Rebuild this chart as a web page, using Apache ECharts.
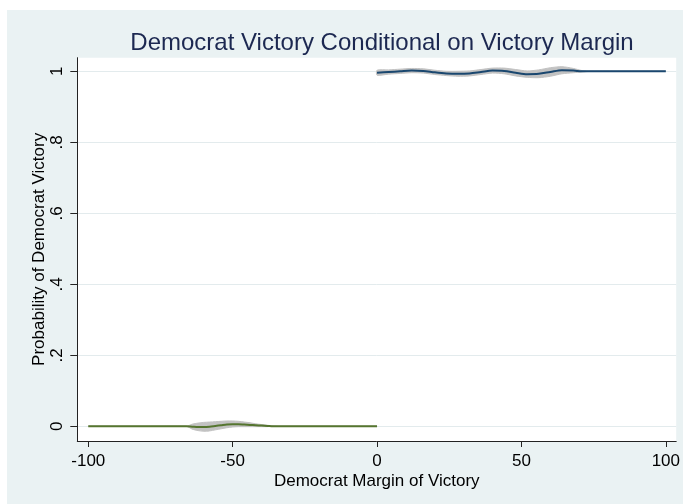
<!DOCTYPE html>
<html>
<head>
<meta charset="utf-8">
<script src="https://cdn.jsdelivr.net/npm/echarts@6/dist/echarts.min.js"></script>
<style>
  html, body { margin: 0; padding: 0; background: #ffffff; width: 683px; height: 504px; overflow: hidden; }
  #chart { position: absolute; left: 7px; top: 10px; width: 676px; height: 494px; }
</style>
</head>
<body>
<div id="chart"></div>
<script>
// Axis ticks and their printed labels
var xTicks = [-100, -50, 0, 50, 100];
var xTickLabels = ['-100', '-50', '0', '50', '100'];
var yTicks = [0, 0.2, 0.4, 0.6, 0.8, 1];
var yTickLabels = ['0', '.2', '.4', '.6', '.8', '1'];

// Fit and confidence band, Republican-won side (margin < 0)
var lossX   = [-100, -80, -66, -64, -62, -60, -58, -56, -54, -52, -50, -48, -46, -44, -42, -40, -38, -36, -34, -30, -20, -10, 0];
var lossFit = [0, 0, 0, -0.001, -0.002, -0.002, -0.001, 0.001, 0.003, 0.005, 0.006, 0.006, 0.005, 0.004, 0.003, 0.002, 0.001, 0, 0, 0, 0, 0, 0];
var lossLo  = [0, 0, 0, -0.008, -0.012, -0.014, -0.013, -0.010, -0.007, -0.004, -0.002, -0.001, -0.001, -0.001, -0.001, -0.001, -0.001, 0, 0, 0, 0, 0, 0];
var lossHi  = [0, 0, 0, 0.006, 0.009, 0.011, 0.012, 0.013, 0.014, 0.015, 0.015, 0.014, 0.012, 0.010, 0.007, 0.005, 0.003, 0.001, 0, 0, 0, 0, 0];

// Fit and confidence band, Democrat-won side (margin > 0)
var winX   = [0, 4, 8, 12, 16, 20, 24, 28, 32, 36, 40, 44, 48, 52, 56, 60, 64, 68, 71, 74, 80, 90, 100];
var winFit = [0.996, 0.998, 1.000, 1.002, 1.001, 0.997, 0.994, 0.993, 0.994, 0.998, 1.002, 1.001, 0.996, 0.992, 0.993, 0.998, 1.003, 1.002, 1.000, 1, 1, 1, 1];
var winLo  = [0.989, 0.992, 0.994, 0.996, 0.995, 0.991, 0.988, 0.986, 0.987, 0.991, 0.995, 0.993, 0.987, 0.983, 0.982, 0.986, 0.993, 0.996, 0.998, 1, 1, 1, 1];
var winHi  = [1.003, 1.004, 1.006, 1.008, 1.007, 1.003, 1.000, 1.000, 1.001, 1.005, 1.009, 1.009, 1.005, 1.001, 1.004, 1.010, 1.013, 1.008, 1.002, 1, 1, 1, 1];

var FONT = '"Liberation Sans", Arial, Helvetica, sans-serif';

function pairs(xs, ys) {
  return xs.map(function (x, i) { return [x, ys[i]]; });
}

// Shaded confidence band drawn as one polygon through the axis scales
function band(xs, lo, hi) {
  return {
    type: 'custom',
    silent: true,
    z: 1,
    data: [[xs[0], lo[0]]],
    renderItem: function (params, api) {
      var pts = [];
      for (var i = 0; i < xs.length; i++) pts.push(api.coord([xs[i], hi[i]]));
      for (var j = xs.length - 1; j >= 0; j--) pts.push(api.coord([xs[j], lo[j]]));
      return {
        type: 'polygon',
        shape: { points: pts, smooth: 0.25 },
        style: { fill: '#c2c2c2', stroke: '#c2c2c2', lineWidth: 1 }
      };
    }
  };
}

function fitLine(xs, ys, color) {
  return {
    type: 'line',
    data: pairs(xs, ys),
    showSymbol: false,
    smooth: 0.3,
    z: 3,
    lineStyle: { color: color, width: 2 },
    itemStyle: { color: color }
  };
}

var chart = echarts.init(document.getElementById('chart'));
chart.setOption({
  animation: false,
  backgroundColor: '#eaf2f3',
  title: {
    text: 'Democrat Victory Conditional on Victory Margin',
    left: 370,
    top: 16,
    textAlign: 'center',
    textStyle: { fontFamily: FONT, fontSize: 24, fontWeight: 'normal', color: '#1c2851' }
  },
  grid: {
    left: 70.3, top: 47.7, right: 6.3, bottom: 63,
    show: true, backgroundColor: '#ffffff', borderWidth: 0
  },
  xAxis: {
    type: 'value',
    min: -103.8, max: 103.6,
    name: 'Democrat Margin of Victory',
    nameLocation: 'middle',
    nameGap: 32,
    nameMoveOverlap: false,
    nameTextStyle: { fontFamily: FONT, fontSize: 17, color: '#000' },
    axisLine: { show: true, onZero: false, lineStyle: { color: '#222', width: 1 } },
    axisTick: { show: true, customValues: xTicks, length: 6, lineStyle: { color: '#222' } },
    axisLabel: {
      customValues: xTicks,
      margin: 12,
      fontFamily: FONT, fontSize: 17, color: '#000',
      formatter: function (v) { return xTickLabels[xTicks.indexOf(v)]; }
    },
    splitLine: { show: false }
  },
  yAxis: {
    type: 'value',
    min: -0.0414, max: 1.0383,
    name: 'Probability of Democrat Victory',
    nameLocation: 'middle',
    nameGap: 29,
    nameMoveOverlap: false,
    nameTextStyle: { fontFamily: FONT, fontSize: 17, color: '#000' },
    axisLine: { show: true, onZero: false, lineStyle: { color: '#222', width: 1 } },
    axisTick: { show: true, customValues: yTicks, length: 7, lineStyle: { color: '#222' } },
    axisLabel: {
      customValues: yTicks,
      rotate: 90,
      margin: 11,
      fontFamily: FONT, fontSize: 17, color: '#000',
      formatter: function (v) {
        for (var i = 0; i < yTicks.length; i++) if (Math.abs(yTicks[i] - v) < 1e-9) return yTickLabels[i];
        return '';
      }
    },
    splitLine: { show: true, lineStyle: { color: '#e3ebed', width: 1 } }
  },
  series: [
    band(lossX, lossLo, lossHi),
    band(winX, winLo, winHi),
    fitLine(lossX, lossFit, '#55752f'),
    fitLine(winX, winFit, '#1a476f')
  ]
});
</script>
</body>
</html>
